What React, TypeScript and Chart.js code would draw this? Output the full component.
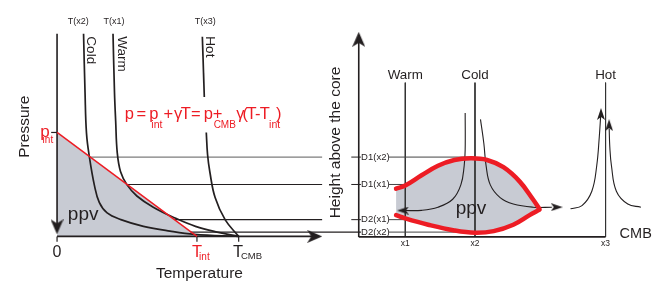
import React, { useEffect, useRef } from 'react';
import { Chart, registerables } from 'chart.js';

Chart.register(...registerables);

// ---------- Left panel: pressure vs temperature (diagram coordinates) ----------
const leftYAxis = [[52, 29], [52, 230]];
const leftXAxis = [[52, 240.5], [314, 240.5]];
const tempTickX = [52, 194.5, 237]; // 0, T_int, T_CMB
const pIntTick = [[46, 132], [52, 132]];
const ppvTriangle = [[52, 132], [52, 240.5], [194.5, 240.5]];
const clapeyronSlope = [[52, 132], [194.5, 240.5]];
const coldGeotherm = [[79, 29], [80.5, 90], [82, 133], [85, 158], [90, 187], [95, 205], [103, 216], [117, 223], [140, 230], [167, 235], [192, 238.3], [237, 240.5]];
const warmGeotherm = [[109, 29], [110.5, 90], [111.7, 120], [113.3, 153], [116.7, 173], [123.3, 186.7], [133.3, 198.3], [150, 210], [173, 221.7], [193, 230], [215, 236], [237, 240.5]];
const hotGeothermTop = [[200, 32], [202, 95]];
const hotGeothermBottom = [[204, 132], [205.3, 155], [207.6, 173], [213, 200], [223.3, 223.3], [237, 240.5]];

// Phase-boundary crossing depths: D1(x2), D1(x1), D2(x1), D2(x2)
const crossingDepth = [157.7, 186.3, 223, 236];
const crossingTemp = [85, 123, 172, 188];
const crossingColumn = [477.7, 406.7, 406.7, 477.7];
const crossingLabels = ['D1(x2)', 'D1(x1)', 'D2(x1)', 'D2(x2)'];

// ---------- Right panel: height above the core vs lateral position ----------
const rightYAxis = [[359.3, 35], [359.3, 241]];
const cmbLine = [[359.3, 241], [610.7, 241]];
const columnX = [406.7, 477.7, 610.7]; // x1 (warm), x2 (cold), x3 (hot)
const columnLabels = ['x1', 'x2', 'x3'];
const columnNames = ['Warm', 'Cold', 'Hot'];
const columnTop = 80;
const ppvTop = [[397.3, 190.7], [406.7, 187.3], [423.3, 176.7], [440, 166.7], [456.7, 160.7], [473.3, 159], [490, 160.7], [506.7, 168.3], [523.3, 183.3], [536.7, 201.7], [543.3, 211.7]];
const ppvBottom = [[397.3, 218.3], [406.7, 221.7], [430, 228.3], [456.7, 234.3], [477.7, 236.7], [496.7, 235], [516.7, 228.3], [533.3, 218.3], [543.3, 212.7]];
const flowColdLeft = [[467.7, 111.7], [467.7, 150], [466.7, 166.7], [463.3, 186.7], [455, 201.7], [440, 210], [423.3, 213.3], [405, 213.5]];
const flowColdRight = [[483.3, 118.3], [486.7, 143.3], [489, 166.7], [493.3, 186.7], [503.3, 200], [516.7, 206.7], [536.7, 210], [556, 210]];
const flowHotLeft = [[575, 211.7], [586.7, 208.3], [596.7, 193.3], [601.7, 166.7], [604.3, 136.7], [605.7, 115]];
const flowHotRight = [[646.7, 210], [633.3, 206.7], [621.7, 193.3], [616.7, 166.7], [615, 146.7], [614.4, 128]];

// arrowheads (centres)
const bigArrowDown = [[52, 230.5]];
const bigArrowRight = [[314.5, 240.5]];
const bigArrowUp = [[359.3, 34.8]];
const smallArrowLeft = [[404.3, 213.5]];
const smallArrowRight = [[561, 210]];
const smallArrowUp = [[606, 112.7], [614.3, 124.3]];

const BLACK = '#231f20';
const RED = '#ed1c24';
const GRAY = '#c8cbd3';
const FONT = '"Liberation Sans", Arial, Helvetica, sans-serif';

const pts = (a: number[][]) => a.map(([x, y]) => ({ x, y }));

function makeArrow(w: number, len: number) {
  const c = document.createElement('canvas');
  c.width = w;
  c.height = len;
  const g = c.getContext('2d')!;
  g.fillStyle = BLACK;
  g.beginPath();
  g.moveTo(w / 2, 0);
  g.lineTo(w, len);
  g.lineTo(w / 2, len * 0.74);
  g.lineTo(0, len);
  g.closePath();
  g.fill();
  return c;
}

type Txt = { t: string; x: number; y: number; s: number; c?: string; a?: CanvasTextAlign; b?: CanvasTextBaseline; r?: number };

export default function App() {
  const ref = useRef<HTMLCanvasElement | null>(null);

  useEffect(() => {
    if (!ref.current) return;
    const big = makeArrow(13, 15);
    const small = makeArrow(8, 12);

    const line = (a: number[][], color: string, width: number, order: number, extra: any = {}) => ({
      data: pts(a),
      showLine: true,
      borderColor: color,
      borderWidth: width,
      pointRadius: 0,
      tension: 0,
      fill: false,
      order,
      ...extra,
    });
    const curve = (a: number[][], color: string, width: number, order: number, extra: any = {}) =>
      line(a, color, width, order, { tension: 0.4, ...extra });
    const arrows = (a: number[][], img: HTMLCanvasElement, rot: number) => ({
      data: pts(a),
      showLine: false,
      pointStyle: img,
      pointRadius: 5,
      rotation: rot,
      order: 0,
    });

    const datasets: any[] = [];
    // left panel
    datasets.push(line(ppvTriangle, 'rgba(0,0,0,0)', 0, 5, { fill: 'shape', backgroundColor: GRAY }));
    datasets.push(line(leftYAxis, BLACK, 1.6, 3));
    datasets.push(line(leftXAxis, BLACK, 1.6, 3));
    tempTickX.forEach((x) => datasets.push(line([[x, 240.5], [x, 246]], BLACK, 1.2, 3)));
    datasets.push(line(pIntTick, BLACK, 1.2, 3));
    crossingDepth.forEach((y, i) => {
      const col = i === 0 ? '#7d7d7d' : BLACK;
      const end = i === 3 ? 361.5 : 322;
      datasets.push(line([[crossingTemp[i], y], [end, y]], col, 1.1, 3));
      if (i < 3) datasets.push(line([[351.7, y], [361.5, y]], BLACK, 1, 3));
      datasets.push(line([[390, y], [crossingColumn[i], y]], '#444', 1, 3));
    });
    datasets.push(line(clapeyronSlope, RED, 1.5, 1));
    datasets.push(curve(coldGeotherm, BLACK, 1.7, 2));
    datasets.push(curve(warmGeotherm, BLACK, 1.7, 2));
    datasets.push(line(hotGeothermTop, BLACK, 1.7, 2));
    datasets.push(curve(hotGeothermBottom, BLACK, 1.7, 2));
    // right panel
    datasets.push(line(rightYAxis, BLACK, 1.6, 3));
    datasets.push(line(cmbLine, BLACK, 1.6, 3));
    columnX.forEach((x) => datasets.push(line([[x, columnTop], [x, 241]], '#333', 1, 3)));
    datasets.push(curve(ppvTop, RED, 4.5, 1, { fill: '+1', backgroundColor: GRAY, borderCapStyle: 'round' }));
    datasets.push(curve(ppvBottom, RED, 4.5, 1, { borderCapStyle: 'round' }));
    datasets.push(curve(flowColdLeft, BLACK, 1.1, 2));
    datasets.push(curve(flowColdRight, BLACK, 1.1, 2));
    datasets.push(curve(flowHotLeft, BLACK, 1.1, 2));
    datasets.push(curve(flowHotRight, BLACK, 1.1, 2));
    // arrowheads
    datasets.push(arrows(bigArrowDown, big, 180));
    datasets.push(arrows(bigArrowRight, big, 90));
    datasets.push(arrows(bigArrowUp, big, 0));
    datasets.push(arrows(smallArrowLeft, small, 270));
    datasets.push(arrows(smallArrowRight, small, 90));
    datasets.push(arrows(smallArrowUp, small, 0));

    const texts: Txt[] = [
      { t: 'T(x2)', x: 73.5, y: 16, s: 9, a: 'center', b: 'middle' },
      { t: 'T(x1)', x: 110, y: 16, s: 9, a: 'center', b: 'middle' },
      { t: 'T(x3)', x: 203, y: 16, s: 9, a: 'center', b: 'middle' },
      { t: 'Cold', x: 86.7, y: 31.7, s: 13.5, a: 'left', b: 'middle', r: 90 },
      { t: 'Warm', x: 117.5, y: 31.7, s: 13.5, a: 'left', b: 'middle', r: 90 },
      { t: 'Hot', x: 207.5, y: 31.7, s: 13.5, a: 'left', b: 'middle', r: 90 },
      { t: 'Pressure', x: 19, y: 126, s: 15.5, a: 'center', b: 'middle', r: -90 },
      { t: 'p', x: 35, y: 136.8, s: 17, c: RED },
      { t: 'int', x: 37.3, y: 143.5, s: 10, c: RED },
      // formula
      { t: 'p', x: 121, y: 118, s: 16.5, c: RED },
      { t: '=', x: 133, y: 118, s: 16.5, c: RED },
      { t: 'p', x: 146, y: 118, s: 16.5, c: RED },
      { t: 'int', x: 148, y: 127.5, s: 10.5, c: RED },
      { t: '+', x: 160.5, y: 118, s: 16.5, c: RED },
      { t: 'γ', x: 171, y: 118, s: 16.5, c: RED },
      { t: 'T', x: 178, y: 118, s: 16.5, c: RED },
      { t: '=', x: 188.5, y: 118, s: 16.5, c: RED },
      { t: 'p', x: 201.5, y: 118, s: 16.5, c: RED },
      { t: 'CMB', x: 211.5, y: 127.5, s: 10, c: RED },
      { t: '+', x: 210.5, y: 118, s: 16.5, c: RED },
      { t: 'γ', x: 234.5, y: 118, s: 16.5, c: RED },
      { t: '(', x: 241, y: 118, s: 16.5, c: RED },
      { t: 'T', x: 245, y: 118, s: 16.5, c: RED },
      { t: '-', x: 253.5, y: 118, s: 16.5, c: RED },
      { t: 'T', x: 258.5, y: 118, s: 16.5, c: RED },
      { t: 'int', x: 268, y: 127.5, s: 10.5, c: RED },
      { t: ')', x: 275, y: 118, s: 16.5, c: RED },
      { t: 'ppv', x: 63, y: 223, s: 19 },
      { t: '0', x: 52, y: 261.5, s: 16, a: 'center' },
      { t: 'T', x: 189.5, y: 261.7, s: 16.5, c: RED },
      { t: 'int', x: 196.7, y: 265.5, s: 10, c: RED },
      { t: 'T', x: 231.2, y: 261.7, s: 16.5 },
      { t: 'CMB', x: 239.3, y: 264.5, s: 9.5 },
      { t: 'Temperature', x: 197, y: 284, s: 15.5, a: 'center' },
      // right panel
      { t: 'Height above the core', x: 336, y: 142.5, s: 15.5, a: 'center', b: 'middle', r: -90 },
      { t: 'ppv', x: 458, y: 217.5, s: 19 },
      { t: 'CMB', x: 625, y: 238, s: 14.5, b: 'middle' },
    ];
    columnX.forEach((x, i) => {
      texts.push({ t: columnNames[i], x, y: 76.7, s: 13.4, a: 'center' });
      texts.push({ t: columnLabels[i], x, y: 248.5, s: 8.5, a: 'center', b: 'middle' });
    });
    crossingDepth.forEach((y, i) => {
      texts.push({ t: crossingLabels[i], x: 361.7, y, s: 9.5, b: 'middle' });
    });

    const textPlugin = {
      id: 'diagramText',
      afterDraw(chart: any) {
        const { ctx } = chart;
        const sx = chart.scales.x;
        const sy = chart.scales.y;
        texts.forEach((o) => {
          ctx.save();
          ctx.translate(sx.getPixelForValue(o.x), sy.getPixelForValue(o.y));
          if (o.r) ctx.rotate((o.r * Math.PI) / 180);
          ctx.font = `${o.s}px ${FONT}`;
          ctx.fillStyle = o.c || BLACK;
          ctx.textAlign = o.a || 'left';
          ctx.textBaseline = o.b || 'alphabetic';
          ctx.fillText(o.t, 0, 0);
          ctx.restore();
        });
      },
    };

    const chart = new Chart(ref.current, {
      type: 'scatter',
      data: { datasets },
      options: {
        animation: false,
        responsive: false,
        events: [],
        layout: { padding: 0 },
        plugins: {
          legend: { display: false },
          tooltip: { enabled: false },
          filler: { drawTime: 'beforeDatasetsDraw' },
        } as any,
        scales: {
          x: { type: 'linear', min: 0, max: 658, display: false },
          y: { type: 'linear', min: 0, max: 286, reverse: true, display: false },
        },
      },
      plugins: [textPlugin],
    });
    return () => chart.destroy();
  }, []);

  return (
    <div style={{ width: 658, height: 286 }}>
      <canvas ref={ref} width={658} height={286} style={{ position: 'absolute', left: 0, top: 0, width: 658, height: 286, background: '#fff' }} />
    </div>
  );
}
